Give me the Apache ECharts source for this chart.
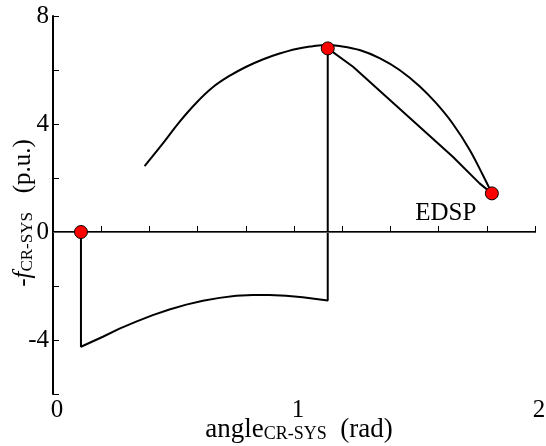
<!DOCTYPE html>
<html>
<head>
<meta charset="utf-8">
<script src="https://cdn.jsdelivr.net/npm/echarts@6/dist/echarts.min.js"></script>
<style>
  html, body { margin: 0; padding: 0; background: #fff; }
  #chart { width: 546px; height: 446px; }
</style>
</head>
<body>
<div id="chart"></div>
<script>
// Power-angle curve (upper arc): [angle, -f]
var powerCurve = [
  [0.380, 2.44], [0.456, 3.28], [0.525, 4.08], [0.594, 4.78], [0.663, 5.36],
  [0.732, 5.78], [0.802, 6.12], [0.870, 6.39], [0.940, 6.61], [1.009, 6.78],
  [1.078, 6.88], [1.133, 6.93], [1.189, 6.89], [1.272, 6.74], [1.355, 6.44],
  [1.438, 6.00], [1.521, 5.40], [1.590, 4.77], [1.659, 4.01], [1.728, 3.06],
  [1.784, 2.10], [1.821, 1.43]
];
// Trajectory: drop at fault, lower (fault-on) arc, jump at clearing, post-fault path
var faultDrop = [[0.116, 0], [0.116, -4.25]];
var faultOnArc = [
  [0.207, -3.88], [0.276, -3.58], [0.345, -3.32], [0.414, -3.08], [0.483, -2.87],
  [0.553, -2.69], [0.622, -2.55], [0.691, -2.44], [0.760, -2.36], [0.829, -2.33],
  [0.898, -2.33], [0.967, -2.36], [1.036, -2.42], [1.092, -2.48], [1.140, -2.54]
];
var clearingJump = [[1.140, 6.80]];
var postFaultPath = [[1.245, 6.12], [1.383, 5.01], [1.521, 3.90], [1.659, 2.79], [1.770, 1.80], [1.821, 1.43]];
// Key points
var keyPoints = [[0.116, 0], [1.140, 6.80], [1.821, 1.43]];
var keyLabels = ['', '', 'EDSP'];
var xTickLabels = { '0': '0', '1': '1', '2': '2' };
var yTickLabels = { '-4': '-4', '0': '0', '4': '4', '8': '8' };

var trajectory = faultDrop.concat(faultOnArc, clearingJump, postFaultPath);
var FONT = 'Liberation Serif';

var chart = echarts.init(document.getElementById('chart'), null, { renderer: 'canvas' });
chart.setOption({
  animation: false,
  backgroundColor: '#fff',
  grid: { left: 53, right: 11, top: 16, bottom: 52, containLabel: false, outerBoundsMode: 'none' },
  xAxis: {
    type: 'value', min: 0, max: 2, interval: 0.2,
    axisLine: { lineStyle: { color: '#000', width: 2 } },
    axisTick: { inside: true, length: 6, lineStyle: { color: '#000', width: 1 } },
    splitLine: { show: false },
    axisLabel: {
      margin: 4, color: '#000', fontFamily: FONT, fontSize: 25, padding: [0, 0, 0, 8],
      formatter: function (v) { var k = String(Math.round(v * 10) / 10); return xTickLabels[k] || ''; }
    },
    name: '{m|angle}{s|CR-SYS}{m|  (rad)}',
    nameLocation: 'middle', nameGap: 19, nameMoveOverlap: false,
    nameTextStyle: {
      color: '#000', padding: [0, 0, 0, 10],
      rich: {
        m: { fontFamily: FONT, fontSize: 27, color: '#000', lineHeight: 30, verticalAlign: 'bottom' },
        s: { fontFamily: FONT, fontSize: 18, color: '#000', lineHeight: 16, verticalAlign: 'bottom' }
      }
    }
  },
  yAxis: {
    type: 'value', min: -6, max: 8, interval: 2,
    axisLine: { lineStyle: { color: '#000', width: 2 } },
    axisTick: { inside: true, length: 6, lineStyle: { color: '#000', width: 1 } },
    splitLine: { show: false },
    axisLabel: {
      margin: 4, color: '#000', fontFamily: FONT, fontSize: 25,
      formatter: function (v) { return yTickLabels[String(v)] || ''; }
    },
    name: '{m|-}{i|f}{s|CR-SYS}{m|   (p.u.)}',
    nameLocation: 'middle', nameGap: 17, nameRotate: 90, nameMoveOverlap: false,
    nameTextStyle: {
      color: '#000', padding: [0, 16, 0, 0],
      rich: {
        m: { fontFamily: FONT, fontSize: 25, color: '#000', lineHeight: 30, verticalAlign: 'bottom' },
        i: { fontFamily: FONT, fontSize: 25, fontStyle: 'italic', color: '#000', lineHeight: 30, verticalAlign: 'bottom' },
        s: { fontFamily: FONT, fontSize: 17, color: '#000', lineHeight: 16, verticalAlign: 'bottom' }
      }
    }
  },
  series: [
    {
      type: 'line', data: powerCurve, showSymbol: false, smooth: 0.4,
      lineStyle: { color: '#000', width: 2 }, z: 3,
      markLine: {
        silent: true, symbol: 'none', label: { show: false },
        lineStyle: { color: '#555', width: 1, type: 'solid' },
        data: [{ yAxis: 0 }]
      }
    },
    {
      type: 'line', data: trajectory, showSymbol: false,
      lineStyle: { color: '#000', width: 2 }, z: 3
    },
    {
      type: 'scatter', symbolSize: 13, z: 5,
      itemStyle: { color: '#ff0000', borderColor: '#000', borderWidth: 1, opacity: 1 },
      data: keyPoints.map(function (p, i) {
        return {
          value: p,
          label: {
            show: keyLabels[i] !== '', formatter: keyLabels[i], position: 'inside',
            offset: [-46, 20], color: '#000', fontFamily: FONT, fontSize: 25
          }
        };
      })
    }
  ]
});
</script>
</body>
</html>
